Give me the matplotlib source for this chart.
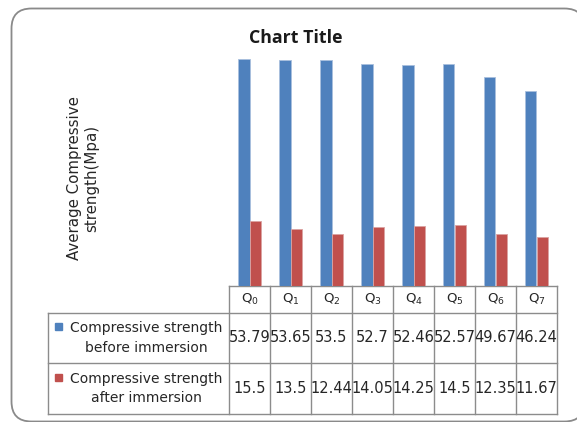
import matplotlib.pyplot as plt
import numpy as np
from matplotlib.patches import FancyBboxPatch, Rectangle

plt.rcParams['font.family'] = ['DejaVu Sans']
plt.rcParams['mathtext.default'] = 'regular'

categories = ['Q$_0$', 'Q$_1$', 'Q$_2$', 'Q$_3$', 'Q$_4$', 'Q$_5$', 'Q$_6$', 'Q$_7$']
before = [53.79, 53.65, 53.5, 52.7, 52.46, 52.57, 49.67, 46.24]
after = [15.5, 13.5, 12.44, 14.05, 14.25, 14.5, 12.35, 11.67]
before_label = 'Compressive strength\nbefore immersion'
after_label = 'Compressive strength\nafter immersion'

blue = '#4F81BD'
red = '#C0504D'
grid = '#8c8c8c'
ink = '#262626'

W, H = 577, 422
fig = plt.figure(figsize=(W / 100, H / 100), dpi=100)

# overlay in pixel units for the frame and the data table
ov = fig.add_axes([0, 0, 1, 1])
ov.set_xlim(0, W)
ov.set_ylim(H, 0)
ov.axis('off')

ov.add_patch(FancyBboxPatch((11.5, 8.5), W - 4, H - 9,
                            boxstyle='round,pad=0,rounding_size=20',
                            fc='white', ec='#8a8a8a', lw=1.3, clip_on=False))

# bar area
x0, x1 = 229, 557
top, base = 33, 286
ax = fig.add_axes([x0 / W, 1 - base / H, (x1 - x0) / W, (base - top) / H])
ax.set_xlim(-0.5, len(categories) - 0.5)
ax.set_ylim(0, 60)
ax.axis('off')

x = np.arange(len(categories))
bw = 1 / 3.5
ax.bar(x - bw / 2, before, bw, color=blue, edgecolor='#a9c0de', lw=0.6)
ax.bar(x + bw / 2, after, bw, color=red, edgecolor='#dba3a2', lw=0.6)

fig.text(296 / W, 1 - 38 / H, 'Chart Title', ha='center', va='center',
         fontsize=12.8, fontweight='bold', color='#1a1a1a', family='Open Sans')

fig.text(83 / W, 1 - 178 / H, 'Average Compressive\nstrength(Mpa)',
         rotation=90, ha='center', va='center', fontsize=10.8,
         linespacing=1.15, color=ink)

# data table
cw = (x1 - x0) / len(categories)
left = 48
rows = [base, 313, 363, 414]
for yy in rows[1:]:
    ov.plot([left, x1], [yy, yy], color=grid, lw=1)
ov.plot([x0, x1], [base, base], color=grid, lw=1)
ov.plot([left, left], [rows[1], rows[3]], color=grid, lw=1)
for i in range(len(categories) + 1):
    ov.plot([x0 + i * cw, x0 + i * cw], [base, rows[3]], color=grid, lw=1)

for i, c in enumerate(categories):
    cx = x0 + (i + 0.5) * cw
    ov.text(cx, (rows[0] + rows[1]) / 2, c, ha='center', va='center',
            fontsize=9.5, color=ink)
    ov.text(cx, (rows[1] + rows[2]) / 2, f'{before[i]:g}', ha='center',
            va='center', fontsize=10.5, color=ink)
    ov.text(cx, (rows[2] + rows[3]) / 2, f'{after[i]:g}', ha='center',
            va='center', fontsize=10.5, color=ink)

for r, (lab, col) in enumerate([(before_label, blue), (after_label, red)]):
    yc = (rows[r + 1] + rows[r + 2]) / 2
    ov.add_patch(Rectangle((55, yc - 15), 7, 7, color=col))
    ov.text(146, yc, lab, ha='center', va='center', fontsize=10,
            linespacing=1.5, color=ink)

fig.savefig('out.png', dpi=100)
